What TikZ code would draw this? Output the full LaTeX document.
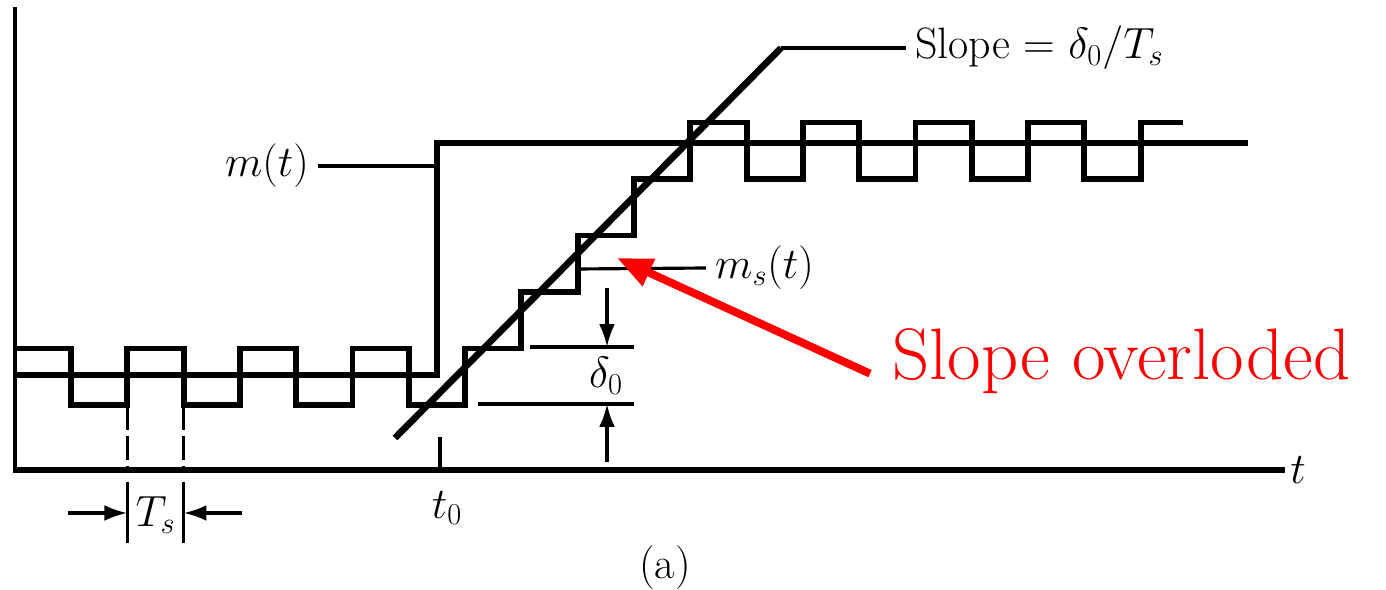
\documentclass[tikz,border=0pt]{standalone}
\usetikzlibrary{arrows.meta}

\begin{document}
\begin{tikzpicture}[x=0.02cm, y=-0.02cm, >={Latex[length=13pt,width=9pt]},
    sig/.style={line width=3.4pt},
    lead/.style={line width=1.8pt},
    lbl/.style={font=\fontsize{25}{30}\selectfont, inner sep=5pt},
    redarr/.style={->, >={Triangle[length=20pt,width=16pt]}, line width=4.5pt, red}]

    \useasboundingbox (0,0) rectangle (1386,590);

    % =================================================================
    % AXES
    % =================================================================
    \draw[line width=2.8pt] (15,7) -- (15,470);
    \draw[line width=3.4pt] (13,470) -- (1285,470);
    \node[lbl, inner sep=0pt] (tlab) at (1298,470) {$t$};

    % tick at t0
    \draw[lead] (440,437) -- (440,470);
    \node[lbl, inner sep=0pt] (t0lab) at (447,508) {$t_0$};

    % =================================================================
    % SIGNAL m(t) AND STAIRCASE m_s(t)
    % =================================================================
    \draw[sig, line width=3.8pt] (15,375) -- (437,375) -- (437,143) -- (1248,143);

    \draw[sig] (15,348.5)
        \foreach \k/\n in {0/0,1/1,2/0,3/1,4/0,5/1,6/0,7/1,8/2,9/3,10/4,
                           11/5,12/4,13/5,14/4,15/5,16/4,17/5,18/4,19/5} {
            -| ({71+56.3*\k},{405-56.5*\n})
        } -- (1183,122.5);

    % slope line
    \coordinate (slbot) at (395,438);
    \coordinate (sltop) at (781,48);
    \draw[sig, line width=3.8pt] (slbot) -- (sltop);

    % =================================================================
    % LABELS WITH LEADERS
    % =================================================================
    \node[lbl, anchor=west] (slopelab) at (906,48) {Slope = $\delta_0/T_s$};
    \draw[lead] (sltop) -- (slopelab.west);

    \coordinate (mstep) at (437,166);
    \node[lbl, anchor=east] (mlab) at (318,166) {$m(t)$};
    \draw[lead] (mlab.east) -- (mstep);

    \coordinate (mscorner) at (577.7,269);
    \node[lbl, anchor=west] (mslab) at (706,268) {$m_s(t)$};
    \draw[lead] (mscorner) -- (mslab.west);

    % =================================================================
    % STEP SIZE delta_0
    % =================================================================
    \draw[lead] (530,347) -- (634,347);
    \draw[lead] (478,404) -- (634,404);
    \draw[lead, ->] (607,288) -- (607,347);
    \draw[lead, ->] (607,462) -- (607,404);
    \node[lbl, inner sep=0pt] (dlab) at (606,376) {$\delta_0$};

    % =================================================================
    % SAMPLING PERIOD T_s
    % =================================================================
    \foreach \x in {127.3,183.6} {
        \draw[lead, dash pattern=on 14pt off 3.5pt] (\x,405) -- (\x,469);
        \draw[lead] (\x,482) -- (\x,543);
    }
    \draw[lead, ->] (68,513) -- (127.3,513);
    \draw[lead, ->] (242,513) -- (183.6,513);
    \node[lbl, inner sep=0pt] (tslab) at (155.5,515) {$T_s$};

    \node[lbl, inner sep=0pt] (alab) at (665,568) {(a)};

    % =================================================================
    % RED REMARK
    % =================================================================
    \node[font=\fontsize{41.5}{50}\selectfont, text=red, inner sep=0pt, anchor=base west]
        (overload) at (892,380) {Slope overloded};
    \coordinate (rtip) at (617,258);
    \draw[redarr] ([shift={(-22,12)}]overload.west) -- (rtip);

\end{tikzpicture}
\end{document}
